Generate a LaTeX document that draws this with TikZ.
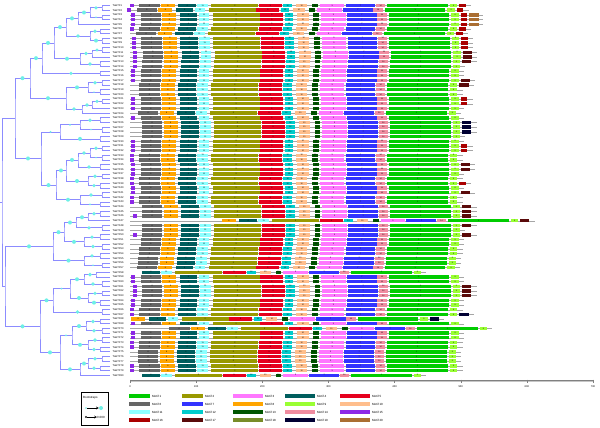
\documentclass[tikz,border=0pt]{standalone}
\usepackage{fontspec}
\setmainfont{Liberation Sans}
\usetikzlibrary{calc}
% motif colours
\definecolor{m1}{RGB}{0,204,0}
\definecolor{m2}{RGB}{153,153,0}
\definecolor{m3}{RGB}{255,119,255}
\definecolor{m4}{RGB}{0,94,94}
\definecolor{m5}{RGB}{230,0,30}
\definecolor{m6}{RGB}{102,102,102}
\definecolor{m7}{RGB}{51,51,255}
\definecolor{m8}{RGB}{255,165,0}
\definecolor{m9}{RGB}{153,255,51}
\definecolor{m10}{RGB}{255,190,140}
\definecolor{m11}{RGB}{140,255,255}
\definecolor{m12}{RGB}{0,204,204}
\definecolor{m13}{RGB}{0,85,0}
\definecolor{m14}{RGB}{240,140,160}
\definecolor{m15}{RGB}{140,40,230}
\definecolor{m16}{RGB}{170,0,0}
\definecolor{m17}{RGB}{90,10,10}
\definecolor{m18}{RGB}{120,140,40}
\definecolor{m19}{RGB}{0,0,51}
\definecolor{m20}{RGB}{170,110,50}
\definecolor{treeline}{RGB}{140,140,255}
\definecolor{bootfill}{RGB}{110,240,230}
\tikzset{
  branch/.style={draw=treeline, line width=0.7pt},
  boot/.style={fill=bootfill},
  leaf/.style={anchor=west, inner sep=0pt, font=\fontsize{2.6}{3}\selectfont},
  mnum/.style={inner sep=0pt, font=\fontsize{2}{2}\selectfont},
  bbone/.style={draw=gray!70, line width=0.4pt},
  legtxt/.style={anchor=west, inner sep=0pt, font=\fontsize{3}{3.5}\selectfont},
  axtxt/.style={inner sep=0pt, font=\fontsize{2.6}{3}\selectfont}
}
% clade: name, x, child a, child b, circle radius on a, on b
\newcommand{\clade}[6]{%
  \coordinate (#1-m) at ($(#3)!0.5!(#4)$);
  \coordinate (#1) at (#2,0 |- #1-m);
  \draw[branch] (#3) -| (#1) |- (#4);
  \ifdim#5pt>0pt\fill[boot] ($(#3 -| #1)!0.5!(#3)$) circle (#5pt);\fi
  \ifdim#6pt>0pt\fill[boot] ($(#4 -| #1)!0.5!(#4)$) circle (#6pt);\fi
}
% one motif bar: colour, start, end (aa), shift, y
\newcommand{\mbar}[5]{\fill[#1] ({130+0.6614*(#2+(#4))},#5-1.7) rectangle ({130+0.6614*(#3+(#4))},#5+1.7);}
% one motif row: row, shift, first motif, line start, tail
\newcommand{\mrow}[5]{%
  \pgfmathsetmacro\ry{5.5+4.68*(#1-1)}%
  \ifcase#5\relax\def\rend{503}\or\def\rend{516}\or\def\rend{532}\or\def\rend{520}\or\def\rend{520}\fi
  \draw[bbone] ({130+0.6614*(#4)},\ry) -- ({130+0.6614*(\rend+(#2))},\ry);
  \foreach \m/\a/\b [count=\k] in {15/0/6,6/14/45,8/47/68,4/73/100,11/102/118,2/123/194,5/195/230,12/232/245,10/251/268,13/275/284,3/287/324,7/326/371,14/372/386,1/389/481,9/484/495}{%
    \ifnum\k<#3\relax\else
      \mbar{m\m}{\a}{\b}{#2}{\ry}%
      \ifnum\m=15\relax\else\node[mnum] at ({130+0.6614*((\a+\b)/2+(#2))},\ry) {\m};\fi
    \fi}%
  \ifnum#5=1 \mbar{m16}{498}{508}{#2}{\ry}\fi
  \ifnum#5=2 \mbar{m16}{498}{508}{#2}{\ry}\mbar{m20}{510}{526}{#2}{\ry}\fi
  \ifnum#5=3 \mbar{m17}{498}{512}{#2}{\ry}\fi
  \ifnum#5=4 \mbar{m19}{498}{512}{#2}{\ry}\fi
}

\begin{document}
\begin{tikzpicture}[x=1pt,y=-1pt]
\fill[white] (0,0) rectangle (600,428);
\useasboundingbox (0,0) rectangle (600,428);

% leaves
\foreach \i in {1,...,80}{
  \pgfmathsetmacro\yy{5.5+4.68*(\i-1)}
  \coordinate (t\i) at (110,\yy);
  \node[leaf] (lab\i) at (112.5,\yy) {TaGTF\i};
}

% tree, top clade
\clade{c1}{102}{t1}{t2}{0}{0}
\clade{c2}{102}{t3}{t4}{0}{0}
\clade{n1}{90}{c1}{c2}{1.8}{0.9}
\clade{n2}{78}{n1}{t5}{2}{0}
\clade{c3}{100}{t6}{t7}{0}{0}
\clade{c4}{102}{t8}{t9}{0}{0}
\clade{n3}{90}{c3}{c4}{1.8}{2}
\clade{n4}{66}{n2}{n3}{2}{1.9}
\clade{c5}{102}{t10}{t11}{0}{0}
\clade{n5}{92}{c5}{t12}{1.6}{0}
\clade{c6}{100}{t13}{t14}{0}{0}
\clade{n6}{80}{n5}{c6}{1.9}{1.8}
\clade{n7}{54}{n4}{n6}{2}{2}
\clade{c7}{100}{t15}{t16}{0}{0}
\clade{n8}{42}{n7}{c7}{2}{1.8}
\clade{c8}{102}{t17}{t18}{0}{0}
\clade{c9}{100}{t19}{t20}{0}{0}
\clade{n9}{88}{c8}{c9}{1.9}{0.8}
\clade{c10}{102}{t21}{t22}{0}{0}
\clade{n10}{92}{c10}{t23}{1.8}{0}
\clade{n11}{82}{n10}{t24}{1.9}{0}
\clade{n12}{66}{n9}{n11}{2}{1.9}
\clade{n13}{30}{n8}{n12}{2}{2}
\clade{c11}{100}{t25}{t26}{0}{0}
\clade{c12}{102}{t27}{t28}{0}{0}
\clade{n14}{80}{c11}{c12}{1.9}{0.8}
\clade{c13}{100}{t29}{t30}{0}{0}
\clade{n15}{60}{n14}{c13}{1}{2}
\clade{c14}{102}{t31}{t32}{0}{0}
\clade{c15}{102}{t33}{t34}{0}{0}
\clade{n16}{90}{c14}{c15}{1.8}{0.8}
\clade{c16}{100}{t35}{t36}{0}{0}
\clade{n17}{78}{n16}{c16}{1.9}{1.9}
\clade{c17}{102}{t37}{t38}{0}{0}
\clade{c18}{100}{t39}{t40}{0}{0}
\clade{n18}{88}{c17}{c18}{1.9}{1.8}
\clade{n19}{66}{n17}{n18}{2}{2}
\clade{c19}{102}{t41}{t42}{0}{0}
\clade{c20}{100}{t43}{t44}{0}{0}
\clade{n20}{80}{c19}{c20}{1.9}{1}
\clade{n21}{56}{n19}{n20}{2}{2}
\clade{n22}{41}{n15}{n21}{1}{2}
\clade{n23}{15}{n13}{n22}{2}{2}
% middle clade
\clade{c21}{100}{t45}{t46}{0}{0}
\clade{n24}{88}{c21}{t47}{1.8}{0}
\clade{c22}{102}{t48}{t49}{0}{0}
\clade{n25}{76}{n24}{c22}{2}{1.8}
\clade{c23}{100}{t50}{t51}{0}{0}
\clade{c24}{102}{t52}{t53}{0}{0}
\clade{n26}{84}{c23}{c24}{1.8}{1.9}
\clade{n27}{64}{n25}{n26}{2}{2}
\clade{c25}{100}{t54}{t55}{0}{0}
\clade{c26}{102}{t56}{t57}{0}{0}
\clade{n28}{84}{c25}{c26}{1.8}{0.8}
\clade{n29}{53}{n27}{n28}{2}{2}
% bottom clade
\clade{c27}{96}{t58}{t59}{0}{0}
\clade{c28}{102}{t60}{t61}{0}{0}
\clade{n30}{84}{c27}{c28}{1.9}{1.8}
\clade{c29}{102}{t62}{t63}{0}{0}
\clade{c30}{100}{t64}{t65}{0}{0}
\clade{n31}{88}{c29}{c30}{1.8}{2}
\clade{n32}{70}{n30}{n31}{2}{2}
\clade{c31}{102}{t66}{t67}{0}{0}
\clade{n33}{53}{n32}{c31}{1}{1.9}
\clade{c32}{100}{t68}{t69}{0}{0}
\clade{c33}{102}{t70}{t71}{0}{0}
\clade{n34}{86}{c32}{c33}{1.9}{1.8}
\clade{c34}{102}{t72}{t73}{0}{0}
\clade{c35}{100}{t74}{t75}{0}{0}
\clade{n35}{88}{c34}{c35}{1.9}{1.8}
\clade{n36}{72}{n34}{n35}{2}{2}
\clade{c36}{102}{t76}{t77}{0}{0}
\clade{c37}{100}{t78}{t79}{0}{0}
\clade{n37}{88}{c36}{c37}{1.9}{1.9}
\clade{n38}{80}{n37}{t80}{2}{0}
\clade{n39}{60}{n36}{n38}{1}{2}
\clade{n40}{40}{n33}{n39}{2}{2}
\clade{n41}{5}{n29}{n40}{2}{2}
\clade{root}{2}{n23}{n41}{0}{0}
\coordinate (stem) at (0,0 |- root);
\draw[branch] (stem) -- (root);

% motif rows
\foreach \r/\s/\f/\l/\t in {1/0/1/0/1,2/-4/1/0/1,3/2/1/0/2,4/2/1/0/2,5/2/1/0/2,6/0/1/0/1,7/-5/2/0/1,8/3/1/0/1,9/3/1/0/1,10/3/1/0/1,
  11/5/1/0/3,12/5/1/0/3,13/4/1/0/3,14/4/1/0/0,15/2/1/0/0,16/2/1/0/0,17/2/1/0/3,18/0/2/0/3,19/0/2/0/0,20/0/2/0/0,
  21/2/1/0/1,22/2/1/0/1,23/2/1/0/0,24/-2/2/0/0,25/2/1/0/0,26/4/2/0/4,27/4/2/0/4,28/4/2/0/4,29/4/2/0/0,30/2/1/0/0,
  31/2/1/0/1,32/2/1/0/1,33/0/1/0/0,34/0/1/0/0,35/2/1/0/3,36/2/1/0/3,37/2/1/0/0,38/0/1/0/0,39/0/1/0/1,40/2/1/0/0,
  41/2/1/0/3,42/0/1/0/0,43/0/1/0/0,44/4/2/0/3,45/4/2/0/3,46/4/1/0/3,47/92/3/0/3,48/4/2/0/3,49/4/2/0/0,50/4/1/0/3,
  51/2/2/0/0,52/2/2/0/0,53/0/2/0/0,54/0/2/0/0,55/-2/2/0/0,56/-2/2/0/0,57/-4/2/0/0,58/-55/4/18/0,59/2/1/0/0,60/2/1/0/0,
  61/4/1/0/3,62/4/1/0/3,63/4/1/0/3,64/2/1/0/0,65/2/1/0/0,66/0/1/0/0,67/0/1/0/4,68/-45/3/2/4,69/2/1/0/0,70/45/2/0/0,
  71/2/1/0/0,72/2/1/0/0,73/0/1/0/0,74/0/1/0/0,75/-2/2/0/0,76/-2/2/0/0,77/-2/2/0/0,78/0/1/0/0,79/0/1/0/0,80/-55/4/18/0}{
  \mrow{\r}{\s}{\f}{\l}{\t}
}

% scale
\draw[gray!45, line width=1.4pt] (130,381) -- (593,381);
\draw[gray, line width=0.3pt] (130,380.3) -- (593,380.3);
\foreach \v in {0,100,...,700}{
  \draw[gray, line width=0.4pt] ({130+0.6614*\v},379.5) -- ({130+0.6614*\v},382.5);
  \node[axtxt] (ax\v) at ({130+0.6614*\v},386.5) {\v};
}

% legend
\foreach \m [count=\k from 0] in {1,...,20}{
  \pgfmathtruncatemacro\cc{mod(\k,5)}
  \pgfmathtruncatemacro\rr{div(\k,5)}
  \pgfmathsetmacro\lx{{129,182,233,285,340}[\cc]}
  \pgfmathsetmacro\lw{{21,21,30,30,30}[\cc]}
  \pgfmathsetmacro\ly{396+8*\rr}
  \fill[m\m] (\lx,\ly-1.6) rectangle (\lx+\lw,\ly+1.6);
  \node[legtxt] (leg\m) at (\lx+\lw+2,\ly) {Motif \m};
}

% bootstrap key
\draw[line width=0.4pt] (81,392.5) rectangle (108.5,425.5);
\node[legtxt] (bstitle) at (83,398) {Bootstraps};
\coordinate (bsa) at (86,408);
\node[circle, fill=bootfill, inner sep=0pt, minimum size=1.6pt] (bsb) at (86,408) {};
\node[circle, fill=bootfill, inner sep=0pt, minimum size=4pt] (bsc) at (101,408) {};
\draw[line width=0.3pt, ->, >=stealth] (bsb) -- (bsc);
\node[circle, draw, inner sep=0pt, minimum size=1.6pt] (bsd) at (86,417) {};
\node[legtxt] (bse) at (97,417) {0.000};
\draw[line width=0.3pt, ->, >=stealth] (bsd) -- (bse);
\end{tikzpicture}
\end{document}
